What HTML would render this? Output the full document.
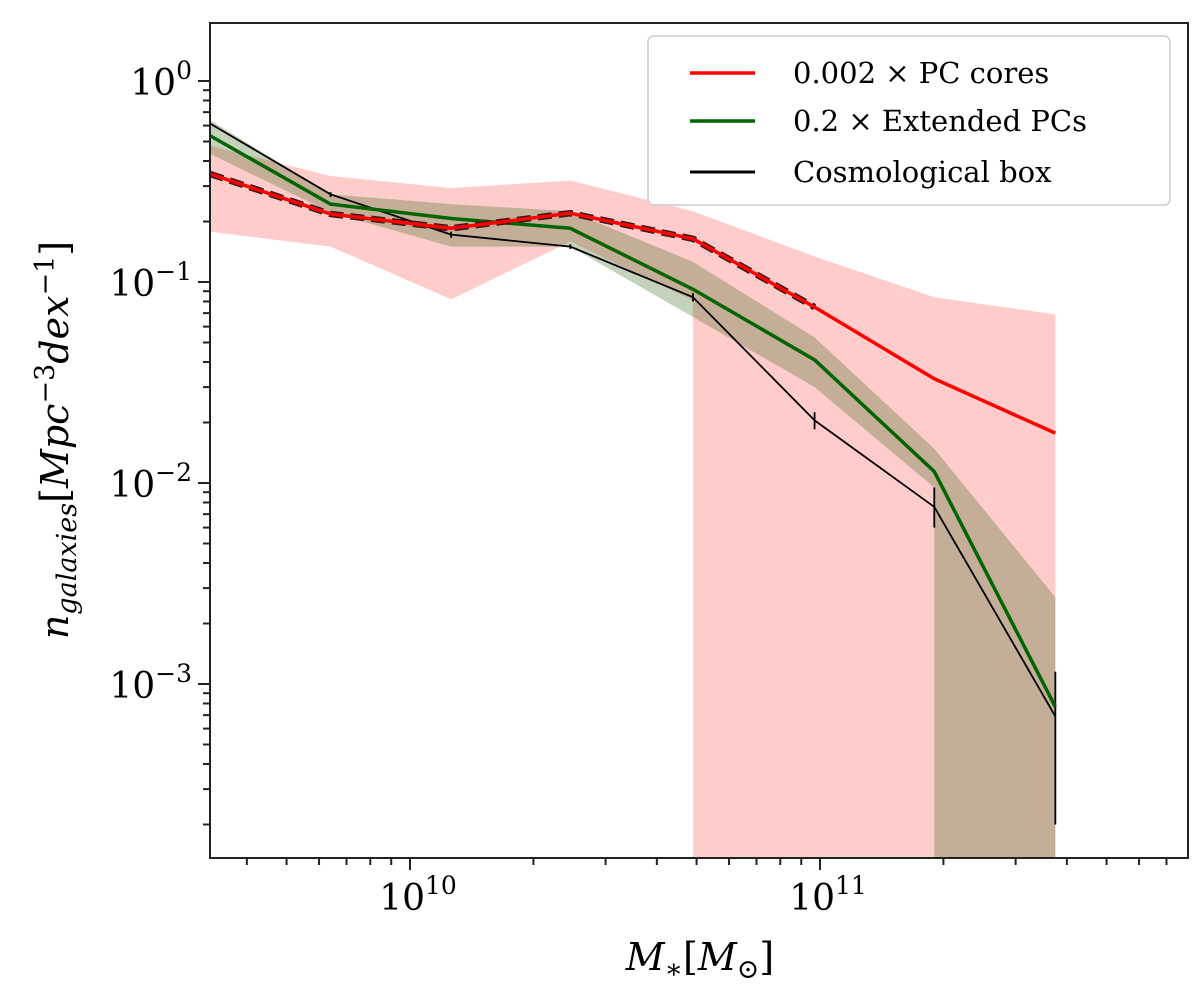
<!DOCTYPE html>
<html><head><meta charset="utf-8"><style>
body{margin:0;background:#fff}
svg text{font-family:"DejaVu Serif","Liberation Serif",serif}
</style></head><body>
<svg id="chart" width="1200" height="989" xmlns="http://www.w3.org/2000/svg">
<defs><clipPath id="clip"><rect x="210" y="23" width="978" height="835"/></clipPath></defs>
<g id="bands" clip-path="url(#clip)"></g>
<g id="lines" clip-path="url(#clip)"></g>
<g id="axes"></g>
<g>
<rect x="648" y="36" width="522" height="169" rx="6" fill="#fff" fill-opacity="0.85" stroke="#ccc" stroke-width="1.5"/>
<line x1="690" y1="73" x2="755" y2="73" stroke="#ff0000" stroke-width="3.5"/>
<text x="793" y="83" font-size="29">0.002 × PC cores</text>
<line x1="690" y1="121" x2="755" y2="121" stroke="#006400" stroke-width="3.5"/>
<text x="793" y="131" font-size="29">0.2 × Extended PCs</text>
<line x1="690" y1="172" x2="755" y2="172" stroke="#000" stroke-width="3"/>
<text x="793" y="182" font-size="29">Cosmological box</text>
</g>
<text x="700" y="970" font-size="38" text-anchor="middle" font-family="DejaVu Sans, sans-serif" font-style="italic">M<tspan font-size="27" dy="8">∗</tspan><tspan dy="-8" font-style="normal">[</tspan>M<tspan font-size="27" dy="8" font-style="normal">⊙</tspan><tspan dy="-8" font-style="normal">]</tspan></text>
<text transform="translate(68,440) rotate(-90)" font-size="38" text-anchor="middle" font-family="DejaVu Sans, sans-serif" font-style="italic">n<tspan font-size="27" dy="8">galaxies</tspan><tspan dy="-8" font-style="normal">[</tspan>Mpc<tspan font-size="27" dy="-14" font-style="normal">−3</tspan><tspan dy="14">dex</tspan><tspan font-size="27" dy="-14" font-style="normal">−1</tspan><tspan dy="14" font-style="normal">]</tspan></text>
</svg>
<script>
const masses=[3.25e9,6.4e9,1.26e10,2.46e10,4.9e10,9.7e10,1.9e11,3.75e11];
const redLine=[0.345,0.218,0.185,0.22,0.164,0.075,0.033,0.0177];
const redUpper=[0.477,0.337,0.293,0.32,0.225,0.134,0.084,0.069];
const redLower=[0.178,0.15,0.082,0.159,0.081,0,0,0];
const dashedLine=[0.345,0.218,0.185,0.22,0.164,0.075];
const greenLine=[0.535,0.244,0.207,0.185,0.092,0.041,0.0114,0.00077];
const greenUpper=[0.64,0.273,0.244,0.225,0.126,0.053,0.0148,0.0027];
const greenLower=[0.434,0.222,0.15,0.15,0.067,0.030,0.0095,0];
const boxLine=[0.615,0.273,0.172,0.15,0.084,0.0205,0.0076,0.00069];
const boxErrLo=[0.6,0.265,0.166,0.146,0.08,0.0185,0.0060,0.0002];
const boxErrHi=[0.63,0.28,0.178,0.154,0.088,0.0225,0.0095,0.00115];
const xTicks=[1e10,1e11];
const xTickExp=["10","11"];
const yTicks=[1,0.1,0.01,0.001];
const yTickExp=["0","−1","−2","−3"];
const NS="http://www.w3.org/2000/svg";
const X=v=>410+410*(Math.log10(v)-10);
const Y=v=>81-201*Math.log10(v);
const BOTTOM=900;
function mk(tag,attrs,parent){const e=document.createElementNS(NS,tag);for(const k in attrs)e.setAttribute(k,attrs[k]);parent.appendChild(e);return e;}
const bands=document.getElementById('bands'),lines=document.getElementById('lines'),axes=document.getElementById('axes');
function band(up,lo,fill,op,name){
  let d=masses.map((m,i)=>(i?'L':'M')+X(m)+','+Y(up[i])).join('');
  for(let i=masses.length-1;i>=0;i--){
    const x=X(masses[i]);
    if(lo[i]<=0){d+='L'+x+','+BOTTOM;}
    else{
      if(i<masses.length-1&&lo[i+1]<=0)d+='L'+x+','+BOTTOM;
      d+='L'+x+','+Y(lo[i]);
    }
  }
  const p=mk('path',{d:d+'Z',fill:fill,'fill-opacity':op},bands);
  
  
}
band(redUpper,redLower,'#ff0000',0.2,'pc-cores-band');
band(greenUpper,greenLower,'#3d6b1e',0.3,'extended-pcs-band');
function line(vals,stroke,w,name,dash){
  const pts=vals.map((v,i)=>X(masses[i])+','+Y(v)).join(' ');
  const a={points:pts,fill:'none',stroke:stroke,'stroke-width':w,'stroke-linejoin':'round'};
  if(dash)a['stroke-dasharray']=dash;
  const p=mk('polyline',a,lines);
  
  
}
line(boxLine,'#000',1.8,'cosmological-box-line');
boxLine.forEach((v,i)=>{const e=mk('line',{x1:X(masses[i]),x2:X(masses[i]),y1:Y(boxErrLo[i]),y2:Y(boxErrHi[i]),stroke:'#000','stroke-width':1.8},lines);

});
line(greenLine,'#006400',3.5,'extended-pcs-line');
line(dashedLine,'#3a1a1a',6.5,'pc-cores-dashed-line','14,7');
line(redLine,'#ff0000',3.5,'pc-cores-line');
const fr=mk('rect',{x:210,y:23,width:978,height:835,fill:'none',stroke:'#222','stroke-width':2},axes);


for(let e=9;e<=11;e++)for(let k=1;k<10;k++){const v=k*Math.pow(10,e);const x=X(v);if(x<210||x>1188)continue;
  const t=mk('line',{x1:x,x2:x,y1:858,y2:858+(k==1?12:7),stroke:'#222','stroke-width':2},axes);
  
  }
for(let e=-4;e<=0;e++)for(let k=1;k<10;k++){const v=k*Math.pow(10,e);const y=Y(v);if(y<23||y>858)continue;
  const t=mk('line',{x1:210,x2:210-(k==1?12:7),y1:y,y2:y,stroke:'#222','stroke-width':2},axes);
  
  }
xTicks.forEach((v,i)=>{const t=mk('text',{x:X(v)+8,y:910,'font-size':36,'text-anchor':'middle'},axes);
  
  
  t.innerHTML='10<tspan font-size="25" dy="-16">'+xTickExp[i]+'</tspan>';});
yTicks.forEach((v,i)=>{const t=mk('text',{x:192,y:Y(v)+14,'font-size':36,'text-anchor':'end'},axes);
  
  
  t.innerHTML='10<tspan font-size="25" dy="-16">'+yTickExp[i]+'</tspan>';});
</script>
</body></html>
